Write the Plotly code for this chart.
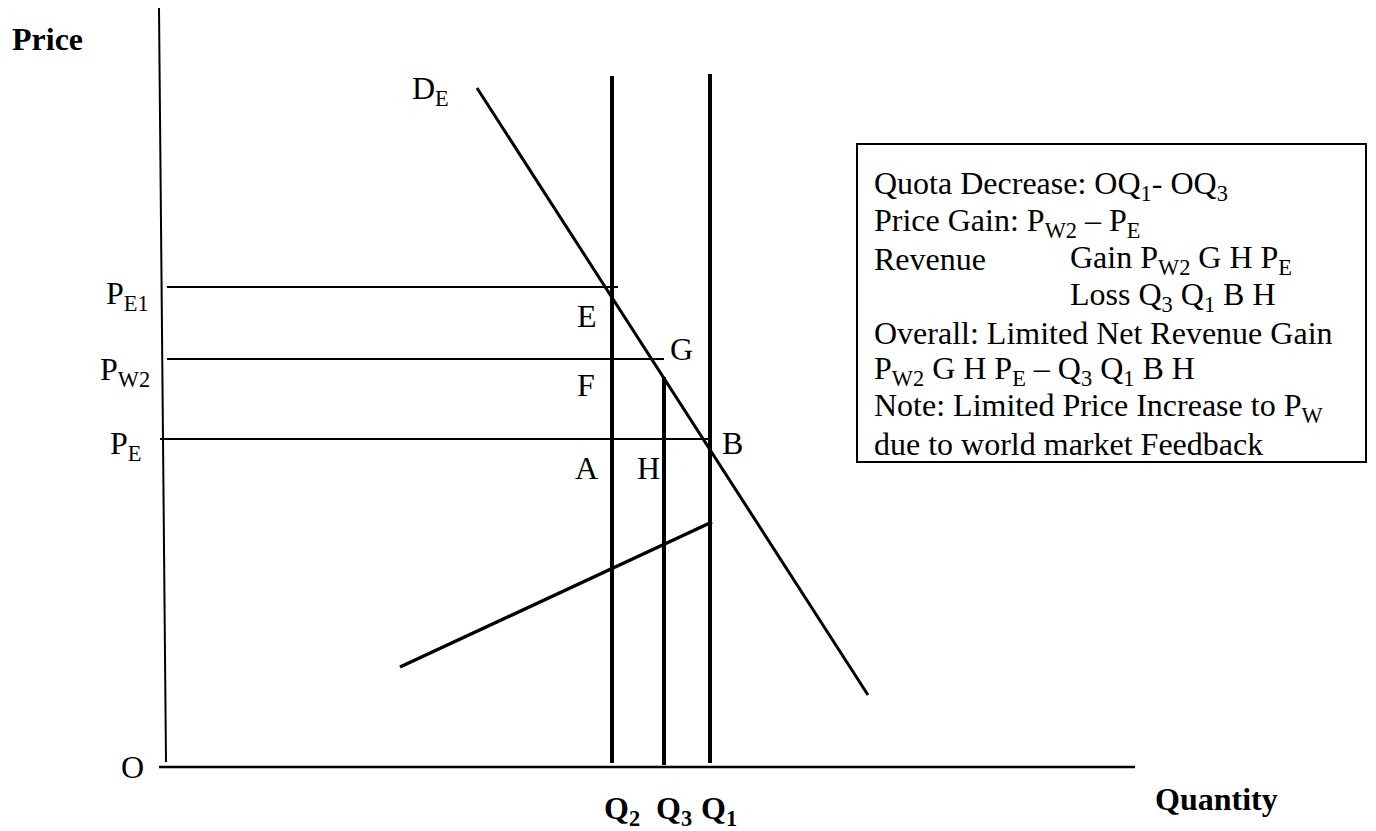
import plotly.graph_objects as go

# Quantities (measured from the origin O along the horizontal axis)
q2 = 450
q3 = 502
q1 = 548

# Price levels (measured from the origin O up the vertical axis)
p_e1 = 480
p_w2 = 408
p_e = 328

# Axis extents
price_axis_x = [-3, 4]
price_axis_y = [759, 5]
qty_axis_x = [-3, 973]
qty_axis_y = [0, 0]

# Price lines: start of each line and where it ends on the quantity scale
p_e1_span = [5, 456]
p_w2_span = [5, 502]
p_e_span = [-2, 546]

# Quota lines: bottom and top of each vertical
q2_span = [4, 691]
q3_span = [2, 390]
q1_span = [4, 693]

# Export demand curve D_E and the upward-sloping supply curve (endpoints)
demand_q = [315, 706]
demand_p = [679, 72]
supply_q = [238, 550]
supply_p = [100, 245]

# Explanation box contents
box_lines = [
    "Quota Decrease: OQ<sub>1</sub>- OQ<sub>3</sub>",
    "Price Gain: P<sub>W2</sub> – P<sub>E</sub>",
    "Revenue",
    "",
    "Overall: Limited Net Revenue Gain",
    "P<sub>W2</sub> G H P<sub>E</sub> – Q<sub>3</sub> Q<sub>1</sub> B H",
    "Note: Limited Price Increase to P<sub>W</sub>",
    "due to world market Feedback",
]
box_sub_lines = {2: "Gain P<sub>W2</sub> G H P<sub>E</sub>", 3: "Loss Q<sub>3</sub> Q<sub>1</sub> B H"}

FONT = "Liberation Serif, Times New Roman, serif"
BLACK = "#000000"

fig = go.Figure()


def seg(xs, ys, width):
    fig.add_trace(go.Scatter(
        x=xs, y=ys, mode="lines",
        line=dict(color=BLACK, width=width),
        hoverinfo="skip", showlegend=False,
    ))


# axes
seg(price_axis_x, price_axis_y, 2)
seg(qty_axis_x, qty_axis_y, 2.5)

# horizontal price lines
seg(p_e1_span, [p_e1, p_e1], 2)
seg(p_w2_span, [p_w2, p_w2], 2)
seg(p_e_span, [p_e, p_e], 2)

# vertical quota lines
seg([q2, q2], q2_span, 4)
seg([q3, q3], q3_span, 4)
seg([q1, q1], q1_span, 4)

# curves
seg(demand_q, demand_p, 3)
seg(supply_q, supply_p, 3.5)


def label(x, y, text, size=32, bold=False, xanchor="center", yanchor="middle", yshift=0):
    if bold:
        text = f"<b>{text}</b>"
    fig.add_annotation(
        x=x, y=y, text=text, showarrow=False,
        xanchor=xanchor, yanchor=yanchor, yshift=yshift,
        font=dict(family=FONT, size=size, color=BLACK),
    )


# axis titles
label(-115, 728, "Price", bold=True)
label(1054, -32, "Quantity", bold=True)
label(-30, 0, "O")

# price labels
label(-11, 476, "P<sub>E1</sub>", xanchor="right", yshift=-4)
label(-10, 400, "P<sub>W2</sub>", xanchor="right", yshift=-4)
label(-19, 326, "P<sub>E</sub>", xanchor="right", yshift=-4)

# quantity labels
label(q2 + 10, -39, "Q<sub>2</sub>", bold=True, yshift=-4)
label(q3 + 10, -39, "Q<sub>3</sub>", bold=True, yshift=-4)
label(q1 + 9, -39, "Q<sub>1</sub>", bold=True, yshift=-4)

# curve and area labels
label(248, 681, "D<sub>E</sub>", xanchor="left", yshift=-4)
label(425, 451, "E")
label(519, 418, "G")
label(424, 382, "F")
label(424, 299, "A")
label(486, 299, "H")
label(570, 324, "B")

# explanation box
fig.add_shape(type="rect", x0=695, x1=1204, y0=305, y1=623,
              line=dict(color=BLACK, width=2), fillcolor="white", layer="below")
line_y = [585, 548, 511, 474, 437, 400, 363, 326]
for i, txt in enumerate(box_lines):
    if txt:
        label(710, line_y[i], txt, xanchor="left", yshift=-3)
    if i in box_sub_lines:
        label(906, line_y[i], box_sub_lines[i], xanchor="left", yshift=-3)

fig.update_layout(
    width=1376, height=831,
    margin=dict(l=0, r=0, t=0, b=0),
    paper_bgcolor="white", plot_bgcolor="white",
    showlegend=False,
    xaxis=dict(range=[-162, 1214], visible=False, fixedrange=True),
    yaxis=dict(range=[-64, 767], visible=False, fixedrange=True),
)

fig.write_html("out.html")
